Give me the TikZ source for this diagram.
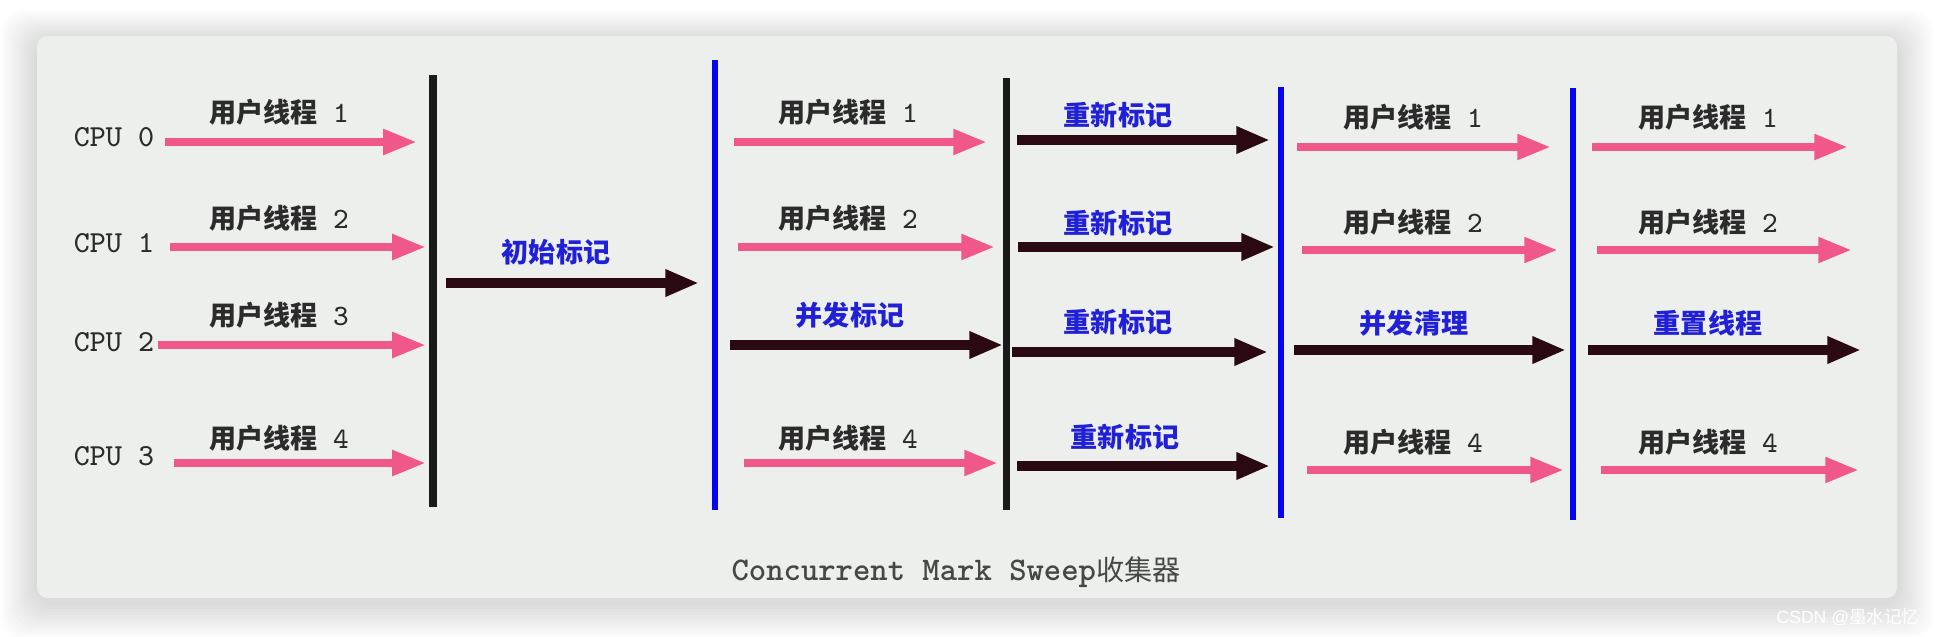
\documentclass[tikz,border=0pt]{standalone}
\usepackage{fontspec}
\setmainfont{Liberation Sans}
\newfontfamily\cjkfont{Noto Sans CJK SC}
\usetikzlibrary{arrows.meta}
\definecolor{ThreadPink}{HTML}{F0588C}
\definecolor{GcInk}{HTML}{2A0A10}
\definecolor{BarInk}{HTML}{1A1A1A}
\definecolor{BarBlue}{HTML}{0505F0}
\definecolor{PhaseBlue}{HTML}{2020D8}
\definecolor{LabelInk}{HTML}{2B2B2B}
\definecolor{PanelGray}{HTML}{EDEFEC}
\tikzset{
  thread/.style={line width=2.3pt, draw=ThreadPink, -{Triangle[length=9.6pt,width=6.8pt]}},
  gcrun/.style={line width=2.6pt, draw=GcInk, -{Triangle[length=9.6pt,width=7.2pt]}},
  pausebar/.style={line width=2pt, draw=BarInk},
  safebar/.style={line width=1.9pt, draw=BarBlue},
  cpulab/.style={font=\fontsize{8.7}{10}\selectfont\ttfamily, text=LabelInk, inner sep=0pt},
  thrlab/.style={font=\fontsize{7.7}{9}\selectfont\cjkfont\bfseries, text=LabelInk, inner sep=0pt},
  phaselab/.style={font=\fontsize{7.7}{9}\selectfont\cjkfont\bfseries, text=PhaseBlue, inner sep=0pt},
}
\newcommand{\usrthr}[1]{用户线程{\ttfamily\mdseries\fontsize{8.4}{9}\selectfont\ #1}}

\begin{document}
\begin{tikzpicture}[x=0.01cm, y=-0.01cm,
  panel/.style={fill=PanelGray, rounded corners=3pt},
  caption/.style={font=\fontsize{9.4}{11}\selectfont\ttfamily\bfseries, text=black!72, inner sep=0pt},
]
\useasboundingbox (0,0) rectangle (1934,636);
\fill[white] (0,0) rectangle (1934,636);
% ---------------------------------------------------------------- panel + soft shadow
\foreach \k in {1,...,12} {
  \fill[black, opacity=0.012, rounded corners=6pt] (37-3*\k,36-2.5*\k+5) rectangle (1897+3*\k,598+3*\k+5);
}
\fill[panel] (37,36) rectangle (1897,598);
% ---------------------------------------------------------------- cpus
\foreach \c/\y in {0/137,1/243,2/342,3/456} {
  \node[cpulab] (cpu\c) at (114,\y) {CPU \c};
}
% ---------------------------------------------------------------- safepoint bars
\draw[pausebar] (433,75) -- (433,507);
\draw[safebar] (715,60) -- (715,510);
\draw[pausebar] (1006,78) -- (1006,510);
\draw[safebar] (1281,87) -- (1281,518);
\draw[safebar] (1573,88) -- (1573,520);
% ---------------------------------------------------------------- threads and gc phases
\foreach \id/\xa/\xb/\y/\kind/\ls/\lx/\ly/\txt in {
  s1r0/165/417/142/thread/thrlab/279/112/\usrthr{1},
  s1r1/170/426/247/thread/thrlab/279/218/\usrthr{2},
  s1r2/158/426/345/thread/thrlab/279/315/\usrthr{3},
  s1r3/174/426/463/thread/thrlab/279/438/\usrthr{4},
  init/446/699/283/gcrun/phaselab/556/252/初始标记,
  s2r0/734/987/142/thread/thrlab/848/112/\usrthr{1},
  s2r1/738/995/247/thread/thrlab/848/218/\usrthr{2},
  s2r2/730/1003/345/gcrun/phaselab/850/315/并发标记,
  s2r3/744/998/463/thread/thrlab/848/438/\usrthr{4},
  s3r0/1017/1270/140/gcrun/phaselab/1118/115/重新标记,
  s3r1/1018/1275/247/gcrun/phaselab/1118/223/重新标记,
  s3r2/1012/1268/352/gcrun/phaselab/1118/322/重新标记,
  s3r3/1017/1270/466/gcrun/phaselab/1125/437/重新标记,
  s4r0/1297/1551/147/thread/thrlab/1413/117/\usrthr{1},
  s4r1/1302/1558/250/thread/thrlab/1413/222/\usrthr{2},
  s4r2/1294/1566/350/gcrun/phaselab/1414/323/并发清理,
  s4r3/1307/1564/470/thread/thrlab/1413/442/\usrthr{4},
  s5r0/1592/1848/147/thread/thrlab/1708/117/\usrthr{1},
  s5r1/1597/1852/250/thread/thrlab/1708/222/\usrthr{2},
  s5r2/1588/1861/350/gcrun/phaselab/1708/323/重置线程,
  s5r3/1601/1859/470/thread/thrlab/1708/442/\usrthr{4}} {
  \coordinate (\id-a) at (\xa,\y);
  \coordinate (\id-b) at (\xb,\y);
  \draw[\kind] (\id-a) -- (\id-b);
  \node[\ls] (\id-l) at (\lx,\ly) {\txt};
}
% ---------------------------------------------------------------- caption
\node[caption] (title) at (956,572) {Concurrent Mark Sweep{\cjkfont\mdseries\fontsize{8}{10}\selectfont 收集器}};
\node[font=\fontsize{5}{6}\selectfont, text=white, inner sep=0pt] (mark) at (1848,617) {CSDN @{\cjkfont 墨水记忆}};
\end{tikzpicture}
\end{document}
